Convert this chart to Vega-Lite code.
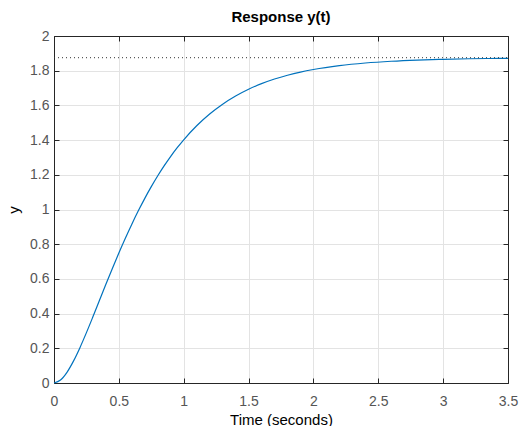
{
  "$schema": "https://vega.github.io/schema/vega-lite/v6.json",
  "width": 454,
  "height": 347,
  "autosize": "none",
  "padding": {"left": 54, "top": 36, "right": 13, "bottom": 43},
  "background": "white",
  "title": {"text": "Response y(t)", "fontSize": 15, "font": "Liberation Sans", "fontWeight": "bold", "color": "#000000", "offset": 4},
  "config": {
    "font": "Liberation Sans",
    "view": {"stroke": "#262626", "strokeWidth": 1},
    "axis": {
      "domainColor": "#262626",
      "tickColor": "#262626",
      "tickSize": -5,
      "labelColor": "#555555",
      "labelFontSize": 14,
      "labelFont": "Liberation Sans",
      "labelFlush": false,
      "labelOverlap": false,
      "labelBound": false,
      "titleFont": "Liberation Sans",
      "titleFontSize": 15,
      "titleFontWeight": "normal",
      "titleColor": "#000000",
      "gridColor": "#e3e3e3",
      "gridWidth": 1
    }
  },
  "datasets": {
    "resp": [
      {"t": 0, "y": 0},
      {"t": 0.05, "y": 0.017},
      {"t": 0.1, "y": 0.0616},
      {"t": 0.15, "y": 0.126},
      {"t": 0.2, "y": 0.2038},
      {"t": 0.25, "y": 0.2903},
      {"t": 0.3, "y": 0.3817},
      {"t": 0.35, "y": 0.4752},
      {"t": 0.4, "y": 0.5686},
      {"t": 0.45, "y": 0.6603},
      {"t": 0.5, "y": 0.7492},
      {"t": 0.55, "y": 0.8345},
      {"t": 0.6, "y": 0.9156},
      {"t": 0.65, "y": 0.9923},
      {"t": 0.7, "y": 1.0643},
      {"t": 0.75, "y": 1.1316},
      {"t": 0.8, "y": 1.1943},
      {"t": 0.85, "y": 1.2525},
      {"t": 0.9, "y": 1.3064},
      {"t": 0.95, "y": 1.3561},
      {"t": 1.0, "y": 1.4018},
      {"t": 1.1, "y": 1.4825},
      {"t": 1.2, "y": 1.5502},
      {"t": 1.3, "y": 1.6068},
      {"t": 1.4, "y": 1.6539},
      {"t": 1.5, "y": 1.693},
      {"t": 1.6, "y": 1.7253},
      {"t": 1.7, "y": 1.7519},
      {"t": 1.8, "y": 1.7739},
      {"t": 1.9, "y": 1.7921},
      {"t": 2.0, "y": 1.8069},
      {"t": 2.2, "y": 1.8292},
      {"t": 2.4, "y": 1.8443},
      {"t": 2.6, "y": 1.8544},
      {"t": 2.8, "y": 1.8612},
      {"t": 3.0, "y": 1.8657},
      {"t": 3.2, "y": 1.8688},
      {"t": 3.35, "y": 1.8704},
      {"t": 3.5, "y": 1.8716}
    ],
    "ss": [
      {"t": 0, "y": 1.875},
      {"t": 3.5, "y": 1.875}
    ]
  },
  "layer": [
    {
      "data": {"name": "resp"},
      "mark": {"type": "line", "color": "#0072BD", "strokeWidth": 1.2, "interpolate": "monotone"},
      "encoding": {
        "x": {
          "field": "t", "type": "quantitative",
          "scale": {"domain": [0, 3.5], "nice": false, "zero": false},
          "axis": {"orient": "bottom", "title": "Time (seconds)", "values": [0, 0.5, 1, 1.5, 2, 2.5, 3, 3.5], "format": "~g", "grid": true, "labelPadding": 16, "titlePadding": 4}
        },
        "y": {
          "field": "y", "type": "quantitative",
          "scale": {"domain": [0, 2], "nice": false},
          "axis": {"orient": "left", "title": "y", "values": [0, 0.2, 0.4, 0.6, 0.8, 1, 1.2, 1.4, 1.6, 1.8, 2], "format": "~g", "grid": true, "labelPadding": 10, "titlePadding": 8}
        }
      }
    },
    {
      "data": {"name": "ss"},
      "mark": {"type": "line", "color": "#333333", "strokeWidth": 1, "strokeDash": [1, 3]},
      "encoding": {
        "x": {
          "field": "t", "type": "quantitative",
          "axis": {"orient": "top", "title": null, "labels": false, "grid": false, "values": [0, 0.5, 1, 1.5, 2, 2.5, 3, 3.5]}
        },
        "y": {
          "field": "y", "type": "quantitative",
          "axis": {"orient": "right", "title": null, "labels": false, "grid": false, "values": [0, 0.2, 0.4, 0.6, 0.8, 1, 1.2, 1.4, 1.6, 1.8, 2]}
        }
      }
    }
  ],
  "resolve": {"axis": {"x": "independent", "y": "independent"}}
}
